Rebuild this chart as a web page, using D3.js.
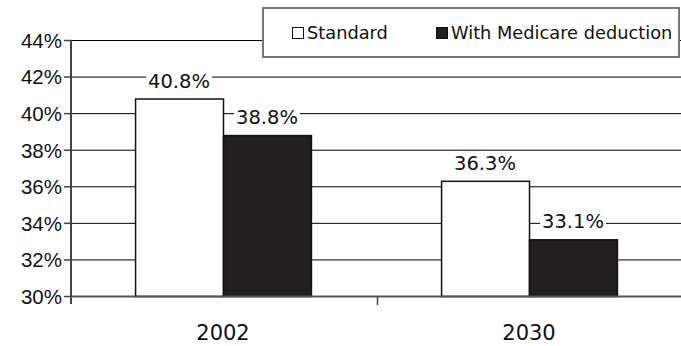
<!DOCTYPE html>
<html>
<head>
<meta charset="utf-8">
<script src="https://cdn.jsdelivr.net/npm/d3@7"></script>
<style>
  html, body { margin: 0; padding: 0; background: #fff; }
  svg { display: block; font-family: "DejaVu Sans", sans-serif; }
</style>
</head>
<body>
<svg id="chart" width="681" height="346"></svg>
<script>
// Tax rate data
const years = ["2002", "2030"];
const seriesNames = ["Standard", "With Medicare deduction"];
const standardValues = [40.8, 36.3];
const medicareValues = [38.8, 33.1];
const yTicks = [30, 32, 34, 36, 38, 40, 42, 44];
const seriesColors = ["#ffffff", "#231f20"];

const svg = d3.select("#chart");
const W = 681, H = 346;
const plotLeft = 71, plotRight = 683, plotTop = 40, plotBottom = 296;

const x = d3.scaleBand().domain(years).range([plotLeft, plotRight]).paddingInner(0).paddingOuter(0);
const xs = d3.scaleBand().domain(seriesNames).range([0, x.bandwidth()]).paddingInner(0).paddingOuter(0.74);
const y = d3.scaleLinear().domain([30, 44]).range([plotBottom, plotTop]);

const rows = years.map((yr, i) => ({
  year: yr,
  values: [
    { name: seriesNames[0], value: standardValues[i] },
    { name: seriesNames[1], value: medicareValues[i] }
  ]
}));

// Horizontal gridlines
svg.append("g").selectAll("line").data(yTicks.filter(t => t !== 30)).join("line")
  .attr("x1", plotLeft).attr("x2", W)
  .attr("y1", d => y(d) + 0.5).attr("y2", d => y(d) + 0.5)
  .attr("stroke", "#000").attr("stroke-width", 1);

// Y axis
const yAxis = d3.axisLeft(y).tickValues(yTicks).tickFormat(d => d + "%").tickSize(7).tickSizeOuter(0);
const gy = svg.append("g").attr("transform", `translate(${plotLeft},0)`).call(yAxis);
gy.select(".domain").attr("stroke", "#444").attr("stroke-width", 2)
  .attr("d", `M0,${y(44)}V${plotBottom + 8}`);
gy.selectAll(".tick line").attr("stroke", "#444").attr("stroke-width", 1.5);
gy.selectAll(".tick text").attr("font-size", 20.5).attr("fill", "#111").attr("x", -9).attr("dy", "0.36em");

// Bars
const groups = svg.append("g").selectAll("g").data(rows).join("g")
  .attr("transform", d => `translate(${x(d.year) - 1},0)`);
groups.selectAll("rect").data(d => d.values).join("rect")
  .attr("x", d => xs(d.name) + 0.5)
  .attr("width", xs.bandwidth())
  .attr("y", d => y(d.value) + 0.5)
  .attr("height", d => plotBottom - y(d.value))
  .attr("fill", (d, i) => seriesColors[i])
  .attr("stroke", "#111").attr("stroke-width", 1.5);

// X axis
const gx = svg.append("g").attr("transform", `translate(0,${plotBottom})`);
gx.append("line").attr("x1", plotLeft).attr("x2", W).attr("y1", 0.5).attr("y2", 0.5)
  .attr("stroke", "#555").attr("stroke-width", 2);
// category boundary tick between the two groups
gx.selectAll(".sep").data(years.slice(1)).join("line")
  .attr("x1", d => x(d) + 0.5).attr("x2", d => x(d) + 0.5)
  .attr("y1", 0).attr("y2", 9)
  .attr("stroke", "#444").attr("stroke-width", 1.5);
gx.selectAll(".cat").data(years).join("text")
  .attr("x", d => x(d) + x.bandwidth() / 2 - 1)
  .attr("y", 44)
  .attr("text-anchor", "middle")
  .attr("font-size", 21).attr("fill", "#111")
  .text(d => d);

// Value labels with white backing
const labels = groups.selectAll("g.lbl").data(d => d.values).join("g").attr("class", "lbl");
labels.each(function(d) {
  const g = d3.select(this);
  const cx = xs(d.name) + xs.bandwidth() / 2;
  const cy = y(d.value) - 18;
  const t = g.append("text")
    .attr("x", cx).attr("y", cy).attr("dy", "0.36em")
    .attr("text-anchor", "middle").attr("font-size", 19.5).attr("fill", "#111")
    .text(d.value.toFixed(1) + "%");
  const bb = t.node().getBBox();
  g.insert("rect", "text")
    .attr("x", bb.x - 2).attr("y", cy - 8).attr("width", bb.width + 4).attr("height", 16)
    .attr("fill", "#fff");
});

// Legend
const lg = svg.append("g");
lg.append("rect").attr("x", 263).attr("y", 8).attr("width", 416).attr("height", 49)
  .attr("fill", "#fff").attr("stroke", "#777").attr("stroke-width", 2);
const legendX = [292, 436];
seriesNames.forEach((name, i) => {
  lg.append("rect").attr("x", legendX[i] + 0.5).attr("y", 27.5).attr("width", 11).attr("height", 11)
    .attr("fill", seriesColors[i]).attr("stroke", "#111").attr("stroke-width", 1);
  lg.append("text").attr("x", legendX[i] + 15).attr("y", 33).attr("dy", "0.36em")
    .attr("font-size", 17.8).attr("fill", "#111").text(name);
});
</script>
</body>
</html>
